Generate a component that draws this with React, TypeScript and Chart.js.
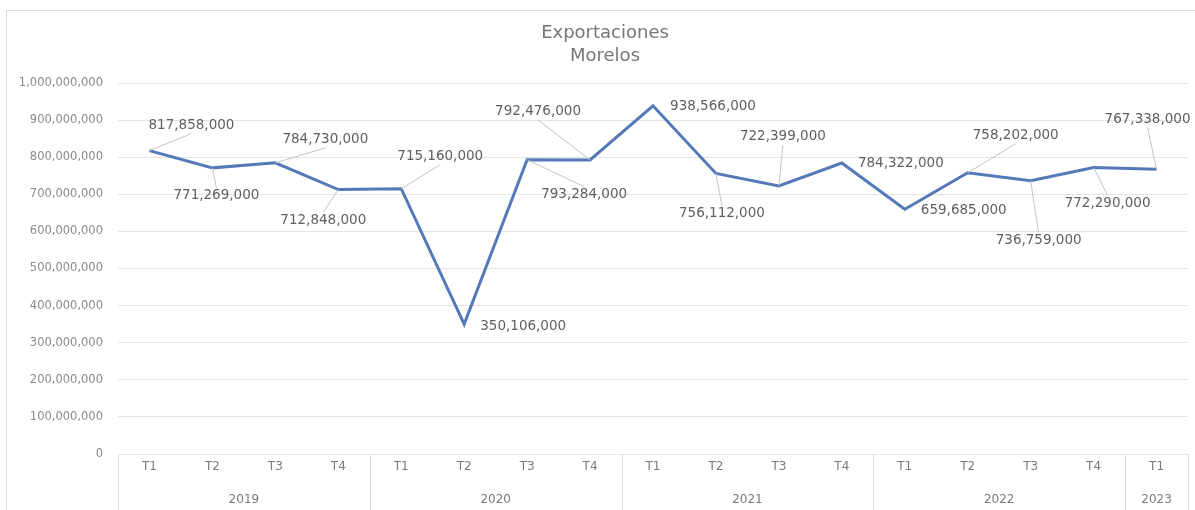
import React, { useEffect, useRef } from "react";
import { Chart, registerables } from "chart.js";

Chart.register(...registerables);

const quarters = ["T1", "T2", "T3", "T4", "T1", "T2", "T3", "T4", "T1", "T2", "T3", "T4", "T1", "T2", "T3", "T4", "T1"];
const years = ["2019", "2020", "2021", "2022", "2023"];
const quartersPerYear = [4, 4, 4, 4, 1];
const exportaciones = [
  817858000, 771269000, 784730000, 712848000,
  715160000, 350106000, 793284000, 792476000,
  938566000, 756112000, 722399000, 784322000,
  659685000, 758202000, 736759000, 772290000,
  767338000,
];
const yMin = 0;
const yMax = 1000000000;
const yStep = 100000000;
const titleLines = ["Exportaciones", "Morelos"];

// label placement relative to each point (px), style only
const labelOffsets: [number, number][] = [
  [42, -25], [4, 28], [50, -23], [-15, 31],
  [39, -32], [59, 2], [57, 35], [-52, -48],
  [60, 1], [6, 40], [4, -49], [59, 0],
  [59, 1], [48, -37], [8, 60], [14, 36],
  [-9, -50],
];

const FONT = "'DejaVu Sans', Verdana, sans-serif";
const fmt = (v: number) => v.toLocaleString("en-US");

const decorPlugin = {
  id: "decor",
  beforeDraw(chart: any) {
    const { ctx, width, height } = chart;
    ctx.save();
    ctx.fillStyle = "#ffffff";
    ctx.fillRect(0, 0, width, height);
    ctx.strokeStyle = "#dcdcdc";
    ctx.lineWidth = 1;
    ctx.strokeRect(6.5, 10.5, width + 20, height + 20);
    ctx.restore();
  },
  afterDatasetsDraw(chart: any) {
    const { ctx, chartArea, height } = chart;
    const meta = chart.getDatasetMeta(0);
    ctx.save();
    // title
    ctx.fillStyle = "#767676";
    ctx.font = `18px ${FONT}`;
    ctx.textAlign = "center";
    ctx.textBaseline = "middle";
    ctx.fillText(titleLines[0], 605, 33);
    ctx.fillText(titleLines[1], 605, 56);

    // year group separators and labels
    const xs = chart.scales.x;
    const catW = (chartArea.right - chartArea.left) / quarters.length;
    ctx.strokeStyle = "#dcdcdc";
    ctx.lineWidth = 1;
    let idx = 0;
    const bounds = [0];
    quartersPerYear.forEach((n) => { idx += n; bounds.push(idx); });
    bounds.forEach((b) => {
      const x = Math.round(xs.getPixelForValue(b) - catW / 2) + 0.5;
      ctx.beginPath();
      ctx.moveTo(x, chartArea.bottom);
      ctx.lineTo(x, height);
      ctx.stroke();
    });
    ctx.fillStyle = "#7a7a7a";
    ctx.font = `12px ${FONT}`;
    years.forEach((y, i) => {
      const x0 = xs.getPixelForValue(bounds[i]) - catW / 2;
      const x1 = xs.getPixelForValue(bounds[i + 1] - 1) + catW / 2;
      ctx.fillText(y, (x0 + x1) / 2, 500);
    });

    // data labels with leader lines
    ctx.font = `13.5px ${FONT}`;
    meta.data.forEach((pt: any, i: number) => {
      const [dx, dy] = labelOffsets[i];
      const cx = pt.x + dx;
      const cy = pt.y + dy;
      if (Math.abs(dy) > 12) {
        ctx.strokeStyle = "#c4c4c4";
        ctx.lineWidth = 1;
        ctx.beginPath();
        ctx.moveTo(pt.x, pt.y);
        ctx.lineTo(cx, cy + (dy > 0 ? -8 : 8));
        ctx.stroke();
      }
      ctx.fillStyle = "#5f5f5f";
      ctx.fillText(fmt(exportaciones[i]), cx, cy);
    });
    ctx.restore();
  },
};

export default function App() {
  const ref = useRef<HTMLCanvasElement | null>(null);
  useEffect(() => {
    if (!ref.current) return;
    const chart = new Chart(ref.current, {
      type: "line",
      data: {
        labels: quarters,
        datasets: [
          {
            label: "Exportaciones",
            data: exportaciones,
            borderColor: "#5479b8",
            borderWidth: 3,
            pointRadius: 0,
            tension: 0,
            fill: false,
          },
        ],
      },
      options: {
        animation: false,
        responsive: false,
        layout: { padding: { top: 83, right: 7, left: 0, bottom: 0 } },
        plugins: {
          legend: { display: false },
          title: { display: false },
          tooltip: { enabled: false },
        },
        scales: {
          x: {
            offset: true,
            grid: { display: false, drawTicks: false },
            border: { display: false },
            ticks: { color: "#7a7a7a", font: { family: FONT, size: 12 }, padding: 6, maxRotation: 0, autoSkip: false },
            afterFit: (s: any) => { s.height = 56; },
          },
          y: {
            min: yMin,
            max: yMax,
            grid: { color: "#e4e4e4", drawTicks: false },
            border: { display: false },
            ticks: {
              stepSize: yStep,
              color: "#8a8a8a",
              font: { family: FONT, size: 11.5 },
              padding: 15,
              callback: (v: any) => fmt(Number(v)),
            },
            afterFit: (s: any) => { s.width = 118; },
          },
        },
      },
      plugins: [decorPlugin],
    });
    return () => chart.destroy();
  }, []);
  return (
    <div style={{ position: "absolute", left: 0, top: 0, width: 1195, height: 510 }}>
      <canvas ref={ref} width={1195} height={510} style={{ display: "block" }} />
    </div>
  );
}
